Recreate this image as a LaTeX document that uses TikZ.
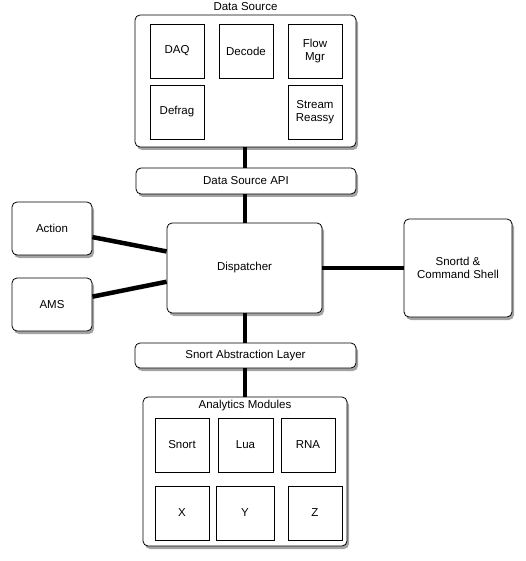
\documentclass[tikz,border=0pt]{standalone}
\usepackage{fontspec}
\setmainfont{Liberation Sans}
\usetikzlibrary{shadows}

\begin{document}
\begin{tikzpicture}[x=1pt,y=-1pt,
    txt/.style={font=\fontsize{11.5}{13.5}\selectfont},
    block/.style={draw, line width=0.8pt, rounded corners=5pt, fill=white, txt, align=center, inner sep=0pt,
        drop shadow={shadow xshift=2pt, shadow yshift=-3pt, fill=black!60, opacity=0.6}},
    module/.style={draw, line width=0.8pt, fill=white, txt, align=center, inner sep=0pt,
        minimum width=54pt, minimum height=54pt},
    link/.style={line width=4.5pt}]
    \useasboundingbox (0,0) rectangle (526,561);
    % Data source
    \node[block, minimum width=221pt, minimum height=132pt] (ds) at (245.5,81) {};
    \node[txt] (dstitle) at (245.5,7) {Data Source};
    \node[module] (daq) at (177,51) {DAQ};
    \node[module] (decode) at (246,51) {Decode};
    \node[module] (flow) at (315,51) {Flow\\Mgr};
    \node[module] (defrag) at (177,112) {Defrag};
    \node[module] (stream) at (315,112) {Stream\\Reassy};
    \node[block, minimum width=220pt, minimum height=26pt] (dsapi) at (246,181) {Data Source API};
    % Middle row
    \node[block, minimum width=80pt, minimum height=53pt] (action) at (52,228.5) {Action};
    \node[block, minimum width=80pt, minimum height=53pt] (ams) at (52,304.5) {AMS};
    \node[block, minimum width=155pt, minimum height=90pt] (disp) at (244.5,268) {Dispatcher};
    \node[block, minimum width=108pt, minimum height=98pt] (shell) at (458,268) {Snortd \&\\Command Shell};
    % Analytics
    \node[block, minimum width=221pt, minimum height=25pt] (sal) at (245.5,355.5) {Snort Abstraction Layer};
    \node[block, minimum width=204pt, minimum height=149pt] (am) at (245,471.5) {};
    \node[txt] (amtitle) at (245,406) {Analytics Modules};
    \node[module] (snort) at (182,445) {Snort};
    \node[module, minimum width=55pt] (lua) at (245.5,445) {Lua};
    \node[module] (rna) at (308,445) {RNA};
    \node[module] (x) at (182,513) {X};
    \node[module, minimum width=58pt] (y) at (245,513) {Y};
    \node[module] (z) at (315,513) {Z};
    % Links
    \draw[link] (245,147) -- (dsapi.north -| 245,0);
    \draw[link] (dsapi.south -| 245,0) -- (disp.north -| 245,0);
    \draw[link] (disp.south -| 245,0) -- (sal.north -| 245,0);
    \draw[link] (sal.south -| 245,0) -- (am.north -| 245,0);
    \draw[link] (action.-12) -- (disp.168);
    \draw[link] (ams.11) -- (disp.190);
    \draw[link] (disp.east) -- (shell.west);
\end{tikzpicture}
\end{document}
